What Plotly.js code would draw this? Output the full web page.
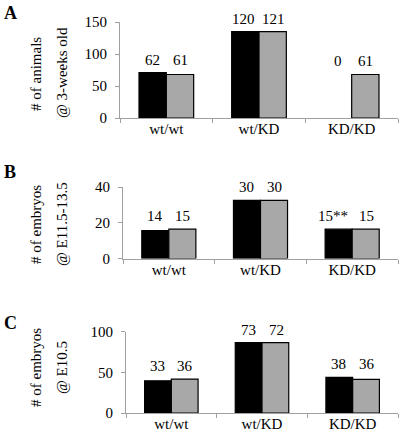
<!DOCTYPE html>
<html>
<head>
<meta charset="utf-8">
<script src="https://cdn.plot.ly/plotly-3.0.1.min.js"></script>
<style>html,body{margin:0;padding:0;background:#fff;}#chart{width:400px;height:435px;}</style>
</head>
<body>
<div id="chart"></div>
<script>
// Categories
const genotypes = ["wt/wt", "wt/KD", "KD/KD"];

// Bar heights as drawn
const barsA_black = [71, 135, 0];
const barsA_gray  = [68, 135, 68];
const barsB_black = [15.6, 32.5, 16.4];
const barsB_gray  = [16.4, 32.5, 16.4];
const barsC_black = [39.5, 86.4, 43.7];
const barsC_gray  = [41.6, 86.4, 41.2];

// Count labels printed above bars
const labelsA_black = ["62", "120", "0"];
const labelsA_gray  = ["61", "121", "61"];
const labelsB_black = ["14", "30", "15**"];
const labelsB_gray  = ["15", "30", "15"];
const labelsC_black = ["33", "73", "38"];
const labelsC_gray  = ["36", "72", "36"];

// Axis tick values
const yTicksA = [0, 50, 100, 150];
const yTicksB = [0, 20, 40];
const yTicksC = [0, 50, 100];

// Titles
const panelLetters = ["A", "B", "C"];
const yTitlesA = ["# of animals", "@ 3-weeks old"];
const yTitlesB = ["# of embryos", "@ E11.5-13.5"];
const yTitlesC = ["# of embryos", "@ E10.5"];

const FONT = "Liberation Serif, Times New Roman, DejaVu Serif, serif";
const BLACK = "#000000";
const GRAY = "#a8a8a8";
const AXIS = "#a0a0a0";

function barTrace(y, color, xa, ya) {
  return {
    type: "bar", x: genotypes, y: y, xaxis: xa, yaxis: ya,
    marker: {color: color, line: {color: "#000", width: y.map(v => v > 0 ? 1.2 : 0)}},
    hoverinfo: "skip", showlegend: false
  };
}

const traces = [
  barTrace(barsA_black, BLACK, "x", "y"),
  barTrace(barsA_gray, GRAY, "x", "y"),
  barTrace(barsB_black, BLACK, "x2", "y2"),
  barTrace(barsB_gray, GRAY, "x2", "y2"),
  barTrace(barsC_black, BLACK, "x3", "y3"),
  barTrace(barsC_gray, GRAY, "x3", "y3")
];

function xAxis(domain, anchor) {
  return {
    domain: domain, anchor: anchor, type: "category",
    range: [-0.5, 2.5],
    showline: true, linecolor: AXIS, linewidth: 1,
    ticks: "outside", tickson: "boundaries", ticklen: 4, tickcolor: AXIS,
    ticklabelstandoff: -3,
    showgrid: false, zeroline: false,
    tickfont: {family: FONT, size: 15, color: "#000"},
    fixedrange: true
  };
}
function yAxis(domain, anchor, ticks) {
  return {
    domain: domain, anchor: anchor,
    range: [0, ticks[ticks.length - 1]],
    tickvals: ticks, ticktext: ticks.map(String),
    showline: true, linecolor: AXIS, linewidth: 1,
    ticks: "outside", ticklen: 4, tickcolor: AXIS,
    ticklabelstandoff: 5,
    showgrid: false, zeroline: false,
    tickfont: {family: FONT, size: 15, color: "#000"},
    fixedrange: true
  };
}

const annotations = [];
function addLabels(blackLabels, grayLabels, blackVals, grayVals, xa, ya, extraShift) {
  genotypes.forEach((g, i) => {
    const top = Math.max(blackVals[i], grayVals[i]);
    annotations.push({
      xref: xa, yref: ya, x: g, y: top, xshift: -14 + (extraShift[i] || 0), yshift: 3,
      yanchor: "bottom", xanchor: "center", showarrow: false,
      text: blackLabels[i], font: {family: FONT, size: 15, color: "#000"}
    });
    annotations.push({
      xref: xa, yref: ya, x: g, y: top, xshift: 14, yshift: 3,
      yanchor: "bottom", xanchor: "center", showarrow: false,
      text: grayLabels[i], font: {family: FONT, size: 15, color: "#000"}
    });
  });
}
addLabels(labelsA_black, labelsA_gray, barsA_black, barsA_gray, "x", "y", [0, -2, 0]);
addLabels(labelsB_black, labelsB_gray, barsB_black, barsB_gray, "x2", "y2", [0, 0, -5]);
addLabels(labelsC_black, labelsC_gray, barsC_black, barsC_gray, "x3", "y3", [0, 0, 0]);

function addYTitle(lines, cy) {
  const xs = [36, 62];
  lines.forEach((t, i) => {
    annotations.push({
      xref: "paper", yref: "paper", x: xs[i] / 400, y: 1 - cy[i] / 435,
      xanchor: "center", yanchor: "middle", textangle: -90, showarrow: false,
      text: t, font: {family: FONT, size: 15, color: "#000"}
    });
  });
}
addYTitle(yTitlesA, [74, 73]);
addYTitle(yTitlesB, [225, 224]);
addYTitle(yTitlesC, [368, 368]);

const letterY = [13, 172, 323];
panelLetters.forEach((L, i) => {
  annotations.push({
    xref: "paper", yref: "paper", x: 10 / 400, y: 1 - letterY[i] / 435,
    xanchor: "center", yanchor: "middle", showarrow: false,
    text: "<b>" + L + "</b>", font: {family: FONT, size: 18, color: "#000"}
  });
});

const layout = {
  width: 400, height: 435,
  margin: {l: 0, r: 0, t: 0, b: 0},
  paper_bgcolor: "#fff", plot_bgcolor: "#fff",
  barmode: "group", bargap: 0.41, bargroupgap: 0,
  showlegend: false,
  xaxis:  xAxis([120 / 400, 398 / 400], "y"),
  yaxis:  yAxis([1 - 118 / 435, 1 - 22 / 435], "x", yTicksA),
  xaxis2: xAxis([123 / 400, 398 / 400], "y2"),
  yaxis2: yAxis([1 - 258.5 / 435, 1 - 187 / 435], "x2", yTicksB),
  xaxis3: xAxis([126 / 400, 398 / 400], "y3"),
  yaxis3: yAxis([1 - 413 / 435, 1 - 331.5 / 435], "x3", yTicksC),
  annotations: annotations
};

Plotly.newPlot("chart", traces, layout, {staticPlot: true, displayModeBar: false});
</script>
</body>
</html>
